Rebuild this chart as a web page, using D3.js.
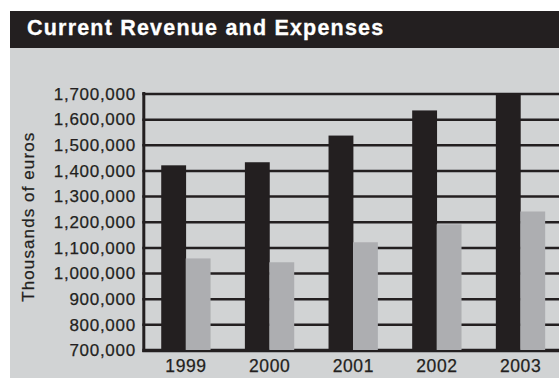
<!DOCTYPE html>
<html>
<head>
<meta charset="utf-8">
<script src="https://cdn.jsdelivr.net/npm/d3@7"></script>
<style>
  html, body { margin: 0; padding: 0; background: #ffffff; }
  svg { display: block; font-family: "Liberation Sans", Arial, Helvetica, sans-serif; }
</style>
</head>
<body>
<svg id="chart" width="559" height="378"></svg>
<script>
// Data
const years = ["1999", "2000", "2001", "2002", "2003"];
const revenue = [1420000, 1432000, 1536000, 1634000, 1699000];
const expenses = [1057000, 1042000, 1120000, 1190000, 1240000];
const yTicks = [700000, 800000, 900000, 1000000, 1100000, 1200000, 1300000, 1400000, 1500000, 1600000, 1700000];
const seriesNames = ["Revenue", "Expenses"];

const DARK = "#231f20";
const GREY_BAR = "#adaeb1";
const PANEL = "#d1d3d4";

const svg = d3.select("#chart");

// Panel and title bar
svg.append("rect").attr("x", 10).attr("y", 48).attr("width", 549).attr("height", 330).attr("fill", PANEL);
svg.append("rect").attr("x", 10).attr("y", 11).attr("width", 549).attr("height", 37).attr("fill", DARK);
svg.append("text")
  .attr("x", 27).attr("y", 35.4)
  .attr("fill", "#ffffff")
  .attr("stroke", "#ffffff").attr("stroke-width", 0.3)
  .attr("font-size", 21.5).attr("font-weight", "bold")
  .attr("letter-spacing", 1.2)
  .text("Current Revenue and Expenses");

// Scales
const axisX = 143.8;
const rightEdge = 559;
const y = d3.scaleLinear().domain([700000, 1700000]).range([350, 93.5]);
const x0 = d3.scaleBand().domain(years).range([144.5, 561.5]).paddingInner(0.415).paddingOuter(0.2);
const x1 = d3.scaleBand().domain(seriesNames).range([0, x0.bandwidth()]);
const colour = d3.scaleOrdinal().domain(seriesNames).range([DARK, GREY_BAR]);

// Horizontal grid lines
const grid = svg.append("g").attr("transform", `translate(${axisX},0)`)
  .call(d3.axisRight(y).tickValues(yTicks).tickSize(rightEdge - axisX + 2).tickFormat(""));
grid.select(".domain").remove();
grid.selectAll(".tick line")
  .attr("stroke", DARK)
  .attr("stroke-width", d => d === 700000 ? 3.5 : 2.5)
  .attr("x1", -1.5);

// Bars
const rows = years.map((yr, i) => ({ year: yr, values: [
  { key: seriesNames[0], value: revenue[i] },
  { key: seriesNames[1], value: expenses[i] }
]}));
svg.append("g").selectAll("g")
  .data(rows).join("g")
  .attr("transform", d => `translate(${x0(d.year)},0)`)
  .selectAll("rect")
  .data(d => d.values).join("rect")
  .attr("x", d => x1(d.key))
  .attr("width", x1.bandwidth() + 0.4)
  .attr("y", d => y(d.value))
  .attr("height", d => y(700000) - y(d.value))
  .attr("fill", d => colour(d.key));

// Shared styling for the dark axis text
function darkText(sel, size, spacing) {
  sel.attr("fill", DARK)
    .attr("stroke", DARK).attr("stroke-width", 0.25)
    .attr("font-size", size)
    .attr("letter-spacing", spacing)
    .attr("font-family", "'Liberation Sans', Arial, sans-serif");
}

// Left axis with value labels
const yAxis = svg.append("g").attr("transform", `translate(${axisX},0)`)
  .call(d3.axisLeft(y).tickValues(yTicks).tickSize(0).tickPadding(8).tickFormat(d3.format(",")));
yAxis.select(".domain")
  .attr("d", `M0,${y(700000) + 2}V${y(1700000) - 1.5}`)
  .attr("stroke", DARK).attr("stroke-width", 3);
yAxis.selectAll(".tick text").call(darkText, 17, 0.7).attr("dy", "0.34em");

// Bottom axis with year labels
const xAxis = svg.append("g").attr("transform", `translate(0,${y(700000)})`)
  .call(d3.axisBottom(x0).tickSize(0).tickPadding(10));
xAxis.select(".domain").remove();
xAxis.selectAll(".tick text").call(darkText, 17.5, 0.6).attr("dx", "0.3").attr("dy", "0.71em");

// Axis title
svg.append("text")
  .attr("transform", "translate(34,216.7) rotate(-90)")
  .attr("text-anchor", "middle")
  .call(darkText, 17, 1.1)
  .text("Thousands of euros");
</script>
</body>
</html>
